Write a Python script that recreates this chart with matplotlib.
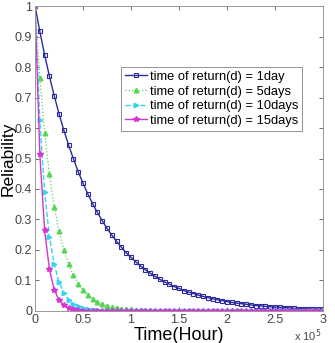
import numpy as np
import matplotlib
matplotlib.use('Agg')
import matplotlib.pyplot as plt
from matplotlib.ticker import FuncFormatter

plt.rcParams['font.family'] = ['Liberation Sans', 'DejaVu Sans']

# time axis, one point every 5000 hours
hours = np.arange(0, 300001, 5000)

# values
r_1day = [1.000, 0.917, 0.840, 0.770, 0.706, 0.647, 0.593, 0.544, 0.499, 0.457,
          0.419, 0.384, 0.352, 0.323, 0.296, 0.271, 0.249, 0.228, 0.209, 0.191,
          0.176, 0.161, 0.148, 0.135, 0.124, 0.114, 0.104, 0.095, 0.088, 0.080,
          0.074, 0.067, 0.062, 0.057, 0.052, 0.048, 0.044, 0.040, 0.037, 0.034,
          0.031, 0.028, 0.026, 0.024, 0.022, 0.020, 0.018, 0.017, 0.015, 0.014,
          0.013, 0.012, 0.011, 0.010, 0.009, 0.008, 0.008, 0.007, 0.006, 0.006,
          0.005]
r_5days = [1.000, 0.765, 0.585, 0.448, 0.342, 0.262, 0.200, 0.153, 0.117, 0.090,
           0.069, 0.052, 0.040, 0.031, 0.024, 0.018, 0.014, 0.011, 0.008, 0.006,
           0.005, 0.004, 0.003, 0.002, 0.002, 0.001, 0.001, 0.000, 0.000, 0.000,
           0.000, 0.000, 0.000, 0.000, 0.000, 0.000, 0.000, 0.000, 0.000, 0.000,
           0.000, 0.000, 0.000, 0.000, 0.000, 0.000, 0.000, 0.000, 0.000, 0.000,
           0.000, 0.000, 0.000, 0.000, 0.000, 0.000, 0.000, 0.000, 0.000, 0.000,
           0.000]
r_10days = [1.000, 0.625, 0.391, 0.244, 0.153, 0.095, 0.060, 0.037, 0.023, 0.015,
            0.009, 0.006, 0.004, 0.002, 0.001, 0.001, 0.000, 0.000, 0.000, 0.000,
            0.000, 0.000, 0.000, 0.000, 0.000, 0.000, 0.000, 0.000, 0.000, 0.000,
            0.000, 0.000, 0.000, 0.000, 0.000, 0.000, 0.000, 0.000, 0.000, 0.000,
            0.000, 0.000, 0.000, 0.000, 0.000, 0.000, 0.000, 0.000, 0.000, 0.000,
            0.000, 0.000, 0.000, 0.000, 0.000, 0.000, 0.000, 0.000, 0.000, 0.000,
            0.000]
r_15days = [1.000, 0.515, 0.265, 0.137, 0.070, 0.036, 0.019, 0.010, 0.005, 0.003,
            0.001, 0.001, 0.000, 0.000, 0.000, 0.000, 0.000, 0.000, 0.000, 0.000,
            0.000, 0.000, 0.000, 0.000, 0.000, 0.000, 0.000, 0.000, 0.000, 0.000,
            0.000, 0.000, 0.000, 0.000, 0.000, 0.000, 0.000, 0.000, 0.000, 0.000,
            0.000, 0.000, 0.000, 0.000, 0.000, 0.000, 0.000, 0.000, 0.000, 0.000,
            0.000, 0.000, 0.000, 0.000, 0.000, 0.000, 0.000, 0.000, 0.000, 0.000,
            0.000]

labels = ['time of return(d) = 1day', 'time of return(d) = 5days',
          'time of return(d) = 10days', 'time of return(d) = 15days']

fig = plt.figure(figsize=(3.35, 3.43), dpi=100)
ax = fig.add_axes([0.1045, 0.0933, 0.8595, 0.8892])

ax.plot(hours, r_1day, '-', color='#2b2b9e', lw=1.0, marker='s', ms=3.0,
        mfc='none', mec='#2b2b9e', mew=0.8, label=labels[0])
ax.plot(hours, r_5days, ':', color='#55d455', lw=0.9, marker='^', ms=3.3,
        mfc='#55d455', mec='#55d455', label=labels[1])
ax.plot(hours, r_10days, '--', color='#33d6ee', lw=1.0, marker='>', ms=3.3,
        mfc='#33d6ee', mec='#33d6ee', label=labels[2])
ax.plot(hours, r_15days, '-', color='#d633d6', lw=1.0, marker='*', ms=3.8,
        mfc='#d633d6', mec='#d633d6', label=labels[3])

ax.set_xlim(0, 300000)
ax.set_ylim(0, 1)
ax.set_xticks(np.arange(0, 300001, 50000))
ax.set_yticks(np.arange(0, 1.01, 0.1))
ax.xaxis.set_major_formatter(FuncFormatter(lambda v, p: '%g' % (v / 1e5)))
ax.yaxis.set_major_formatter(FuncFormatter(lambda v, p: '%g' % round(v, 1)))
ax.tick_params(direction='in', top=True, right=True, length=3, width=0.6,
               colors='#555555', labelsize=9, labelcolor='#444444', pad=2)
for s in ax.spines.values():
    s.set_color('#999999')
    s.set_linewidth(0.7)

ax.set_xlabel('Time(Hour)', fontsize=13, labelpad=1)
ax.set_ylabel('Reliability', fontsize=12.5)
ax.yaxis.set_label_coords(-0.066, 0.5)
fig.text(0.958, 0.006, 'x 10$^5$', fontsize=8, color='#444444', ha='right')

leg = ax.legend(loc='upper left', bbox_to_anchor=(0.30, 0.80), fontsize=9.3,
                frameon=True, fancybox=False, borderpad=0.3, labelspacing=0.2,
                handlelength=1.7, handletextpad=0.2, borderaxespad=0)
leg.get_frame().set_edgecolor('#777777')
leg.get_frame().set_linewidth(0.7)

fig.savefig('out.png', dpi=100)
